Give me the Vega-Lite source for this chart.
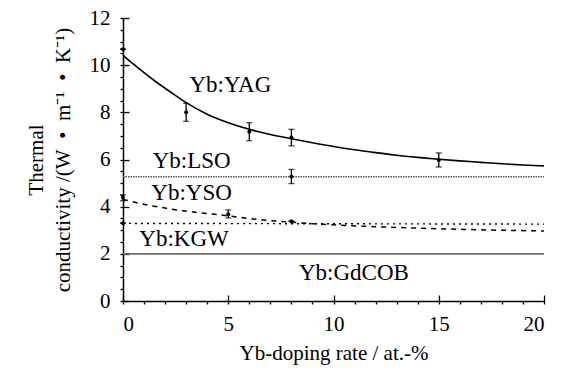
{
  "$schema": "https://vega.github.io/schema/vega-lite/v6.json",
  "autosize": "none",
  "width": 421,
  "height": 283,
  "padding": {"left": 123, "top": 18, "right": 20, "bottom": 69},
  "background": "white",
  "config": {
    "view": {"stroke": null},
    "font": "Liberation Serif",
    "axis": {
      "grid": false,
      "ticks": true,
      "domainColor": "black",
      "domainWidth": 1.5,
      "tickColor": "black",
      "tickWidth": 1.3,
      "labelFont": "Liberation Serif",
      "labelFontSize": 21,
      "labelColor": "black",
      "titleFont": "Liberation Serif",
      "titleFontSize": 21,
      "titleFontWeight": "normal",
      "titleColor": "black"
    }
  },
  "resolve": {"axis": {"x": "independent", "y": "independent"}},
  "datasets": {
    "lines": [
      {"s": "YAG", "x": 0, "y": 10.42},
      {"s": "YAG", "x": 0.5, "y": 10.04},
      {"s": "YAG", "x": 1, "y": 9.68},
      {"s": "YAG", "x": 1.5, "y": 9.34},
      {"s": "YAG", "x": 2, "y": 9.02},
      {"s": "YAG", "x": 2.5, "y": 8.71},
      {"s": "YAG", "x": 3, "y": 8.41},
      {"s": "YAG", "x": 4, "y": 7.92},
      {"s": "YAG", "x": 5, "y": 7.56},
      {"s": "YAG", "x": 6, "y": 7.28},
      {"s": "YAG", "x": 7, "y": 7.06},
      {"s": "YAG", "x": 8, "y": 6.88},
      {"s": "YAG", "x": 9, "y": 6.71},
      {"s": "YAG", "x": 10, "y": 6.55},
      {"s": "YAG", "x": 11, "y": 6.41},
      {"s": "YAG", "x": 12, "y": 6.29},
      {"s": "YAG", "x": 13, "y": 6.18},
      {"s": "YAG", "x": 14, "y": 6.09},
      {"s": "YAG", "x": 15, "y": 6.01},
      {"s": "YAG", "x": 16, "y": 5.94},
      {"s": "YAG", "x": 17, "y": 5.88},
      {"s": "YAG", "x": 18, "y": 5.82},
      {"s": "YAG", "x": 19, "y": 5.77},
      {"s": "YAG", "x": 20, "y": 5.73},
      {"s": "YSO", "x": 0, "y": 4.31},
      {"s": "YSO", "x": 1, "y": 4.1},
      {"s": "YSO", "x": 2, "y": 3.94},
      {"s": "YSO", "x": 3, "y": 3.81},
      {"s": "YSO", "x": 4, "y": 3.71},
      {"s": "YSO", "x": 5, "y": 3.61},
      {"s": "YSO", "x": 6, "y": 3.5},
      {"s": "YSO", "x": 7, "y": 3.41},
      {"s": "YSO", "x": 8, "y": 3.34},
      {"s": "YSO", "x": 9, "y": 3.28},
      {"s": "YSO", "x": 10, "y": 3.23},
      {"s": "YSO", "x": 12, "y": 3.15},
      {"s": "YSO", "x": 14, "y": 3.09},
      {"s": "YSO", "x": 16, "y": 3.04},
      {"s": "YSO", "x": 18, "y": 3.0},
      {"s": "YSO", "x": 20, "y": 2.97},
      {"s": "LSO", "x": 0, "y": 5.27},
      {"s": "LSO", "x": 20, "y": 5.27},
      {"s": "KGW", "x": 0, "y": 3.29},
      {"s": "KGW", "x": 20, "y": 3.26},
      {"s": "GdCOB", "x": 0, "y": 2.0},
      {"s": "GdCOB", "x": 20, "y": 2.0}
    ],
    "points": [
      {"s": "YAG", "x": 0, "y": 10.68, "lo": 10.68, "hi": 10.68},
      {"s": "YAG", "x": 3, "y": 8.0, "lo": 7.62, "hi": 8.38},
      {"s": "YAG", "x": 6, "y": 7.18, "lo": 6.8, "hi": 7.56},
      {"s": "YAG", "x": 8, "y": 6.93, "lo": 6.58, "hi": 7.28},
      {"s": "YAG", "x": 15, "y": 5.98, "lo": 5.68, "hi": 6.28},
      {"s": "LSO", "x": 8, "y": 5.28, "lo": 4.98, "hi": 5.58},
      {"s": "YSO", "x": 0, "y": 4.38, "lo": 4.25, "hi": 4.5},
      {"s": "YSO", "x": 5, "y": 3.68, "lo": 3.52, "hi": 3.86},
      {"s": "YSO", "x": 8, "y": 3.38, "lo": 3.38, "hi": 3.38},
      {"s": "KGW", "x": 0, "y": 3.3, "lo": 3.3, "hi": 3.3}
    ],
    "labels": [
      {"t": "Yb:YAG", "x": 5.1, "y": 8.86},
      {"t": "Yb:LSO", "x": 3.26, "y": 5.64},
      {"t": "Yb:YSO", "x": 3.26, "y": 4.28},
      {"t": "Yb:KGW", "x": 2.9, "y": 2.33},
      {"t": "Yb:GdCOB", "x": 10.97, "y": 0.89}
    ]
  },
  "encoding": {
    "x": {"field": "x", "type": "quantitative", "scale": {"domain": [0, 20], "nice": false}, "axis": null},
    "y": {"field": "y", "type": "quantitative", "scale": {"domain": [0, 12], "nice": false}, "axis": null}
  },
  "layer": [
    {
      "data": {"name": "lines"},
      "transform": [{"filter": "datum.s === 'GdCOB'"}],
      "mark": {"type": "line", "color": "#6e6e6e", "strokeWidth": 1.6},
      "encoding": {
        "x": {
          "field": "x", "type": "quantitative", "scale": {"domain": [0, 20], "nice": false},
          "axis": {
            "orient": "bottom",
            "title": "Yb-doping rate / at.-%",
            "values": [0,1,2,3,4,5,6,7,8,9,10,11,12,13,14,15,16,17,18,19,20],
            "labelExpr": "datum.value % 5 === 0 ? format(datum.value, 'd') : ''",
            "tickSize": 3,
            "labelPadding": 9,
            "titlePadding": 8
          }
        },
        "y": {
          "field": "y", "type": "quantitative", "scale": {"domain": [0, 12], "nice": false},
          "axis": {
            "orient": "left",
            "title": ["Thermal", "conductivity /(W\u00a0\u00a0•\u00a0\u00a0m⁻¹\u00a0\u00a0•\u00a0\u00a0K⁻¹)"],
            "titleFontSize": 21,
            "titleLineHeight": 27,
            "values": [0,0.5,1,1.5,2,2.5,3,3.5,4,4.5,5,5.5,6,6.5,7,7.5,8,8.5,9,9.5,10,10.5,11,11.5,12],
            "labelExpr": "datum.value % 2 === 0 ? format(datum.value, 'd') : ''",
            "tickSize": 3,
            "labelPadding": 10,
            "titlePadding": 16
          }
        }
      }
    },
    {
      "data": {"name": "lines"},
      "transform": [{"filter": "datum.s === 'LSO'"}],
      "mark": {"type": "line", "color": "#555555", "strokeWidth": 1.6, "strokeDash": [1.5, 1]},
      "encoding": {
        "x": {
          "field": "x", "type": "quantitative", "scale": {"domain": [0, 20], "nice": false},
          "axis": {"orient": "bottom", "title": null, "values": [0, 5, 10, 15, 20], "labels": false, "domain": false, "tickSize": -6}
        },
        "y": {
          "field": "y", "type": "quantitative", "scale": {"domain": [0, 12], "nice": false},
          "axis": {"orient": "left", "title": null, "values": [0, 2, 4, 6, 8, 10, 12], "labels": false, "domain": false, "tickSize": -6}
        }
      }
    },
    {
      "data": {"name": "lines"},
      "transform": [{"filter": "datum.s === 'KGW'"}],
      "mark": {"type": "line", "color": "black", "strokeWidth": 1.4, "strokeDash": [2, 4]},
      "encoding": {}
    },
    {
      "data": {"name": "lines"},
      "transform": [{"filter": "datum.s === 'YSO'"}],
      "mark": {"type": "line", "color": "black", "strokeWidth": 1.5, "strokeDash": [5, 5], "interpolate": "monotone"},
      "encoding": {}
    },
    {
      "data": {"name": "lines"},
      "transform": [{"filter": "datum.s === 'YAG'"}],
      "mark": {"type": "line", "color": "black", "strokeWidth": 1.6, "interpolate": "monotone"},
      "encoding": {}
    },
    {
      "data": {"name": "points"},
      "mark": {"type": "rule", "color": "black", "strokeWidth": 1.3},
      "encoding": {"y": {"field": "lo", "type": "quantitative", "axis": null}, "y2": {"field": "hi"}}
    },
    {
      "data": {"name": "points"},
      "mark": {"type": "tick", "orient": "horizontal", "color": "black", "size": 6, "thickness": 1.3},
      "encoding": {"y": {"field": "lo", "type": "quantitative", "axis": null}}
    },
    {
      "data": {"name": "points"},
      "mark": {"type": "tick", "orient": "horizontal", "color": "black", "size": 6, "thickness": 1.3},
      "encoding": {"y": {"field": "hi", "type": "quantitative", "axis": null}}
    },
    {
      "data": {"name": "points"},
      "mark": {"type": "point", "filled": true, "color": "black", "size": 16, "opacity": 1},
      "encoding": {}
    },
    {
      "data": {"name": "labels"},
      "mark": {"type": "text", "font": "Liberation Serif", "fontSize": 23, "color": "black", "align": "center", "baseline": "alphabetic"},
      "encoding": {"text": {"field": "t"}}
    }
  ]
}
